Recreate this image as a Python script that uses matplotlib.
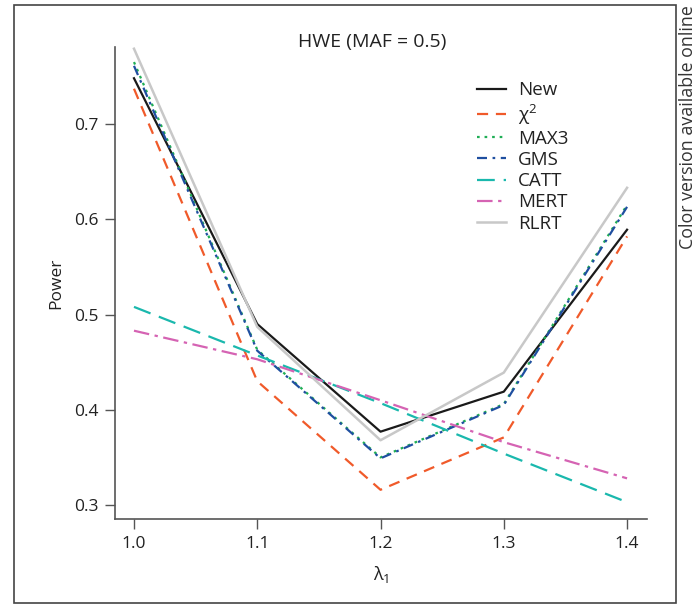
import matplotlib
matplotlib.use("Agg")
import matplotlib.pyplot as plt
from matplotlib.patches import Rectangle

plt.rcParams['font.family'] = ['Open Sans', 'DejaVu Sans']
plt.rcParams['mathtext.fontset'] = 'custom'
plt.rcParams['mathtext.rm'] = 'Open Sans'
plt.rcParams['mathtext.it'] = 'Open Sans'

lam = [1.0, 1.1, 1.2, 1.3, 1.4]
new = [0.748, 0.490, 0.377, 0.419, 0.589]
chi2 = [0.737, 0.430, 0.316, 0.371, 0.582]
max3 = [0.765, 0.463, 0.350, 0.406, 0.615]
gms = [0.761, 0.462, 0.349, 0.405, 0.613]
catt = [0.508, 0.457, 0.407, 0.354, 0.303]
mert = [0.483, 0.453, 0.410, 0.366, 0.328]
rlrt = [0.779, 0.487, 0.368, 0.439, 0.633]

labels = ['New', r'$\mathregular{χ^2}$', 'MAX3', 'GMS', 'CATT', 'MERT', 'RLRT']
xticks = [1.0, 1.1, 1.2, 1.3, 1.4]
yticks = [0.3, 0.4, 0.5, 0.6, 0.7]

fig = plt.figure(figsize=(6.97, 6.05), dpi=100)
ax = fig.add_axes([0.165, 0.1421, 0.7633, 0.7802])

lw = 1.6
ax.plot(lam, new, color='#1a1a1a', lw=lw, label=labels[0])
ax.plot(lam, chi2, color='#f05a2a', lw=lw, dashes=(5, 3.5), label=labels[1])
ax.plot(lam, max3, color='#1fae55', lw=lw, dashes=(1.2, 2.2), label=labels[2])
ax.plot(lam, gms, color='#1f4fa0', lw=lw, dashes=(4.5, 2.5, 1.2, 2.5), label=labels[3])
ax.plot(lam, catt, color='#1ab8ad', lw=lw, dashes=(8, 4), label=labels[4])
ax.plot(lam, mert, color='#d563b3', lw=lw, dashes=(7, 2.5, 1.5, 2.5), label=labels[5])
ax.plot(lam, rlrt, color='#c8c8c8', lw=lw + 0.2, label=labels[6])

ax.set_xlim(0.9846, 1.4162)
ax.set_ylim(0.2853, 0.7808)
ax.set_xticks(xticks)
ax.set_xticklabels([f'{v:.1f}' for v in xticks])
ax.set_yticks(yticks)
ax.set_yticklabels([f'{v:.1f}' for v in yticks])

for s in ['top', 'right']:
    ax.spines[s].set_visible(False)
for s in ['left', 'bottom']:
    ax.spines[s].set_color('#555555')
    ax.spines[s].set_linewidth(1.2)
ax.tick_params(axis='both', length=7, width=1.0, color='#555555',
               labelsize=12.5, labelcolor='#222222', pad=5)

ax.set_xlabel(r'$\mathregular{λ_1}$', fontsize=13, color='#222222', labelpad=9)
ax.set_ylabel('Power', fontsize=12.5, color='#222222', labelpad=7)

fig.text(372 / 697, 1 - 42 / 605, 'HWE (MAF = 0.5)', ha='center', va='center',
         fontsize=14, color='#222222')

leg = ax.legend(loc='upper left', bbox_to_anchor=(468 / 697, 1 - 72 / 605),
                bbox_transform=fig.transFigure, frameon=False, fontsize=13.5,
                handlelength=1.55, handletextpad=0.6, labelspacing=0.17,
                borderpad=0.0)
for t in leg.get_texts():
    t.set_color('#222222')

fig.patches.append(Rectangle((14 / 697, 1 - 603 / 605), (676 - 14) / 697, (603 - 5) / 605,
                             transform=fig.transFigure, fill=False,
                             edgecolor='#444444', linewidth=1.2))

fig.text(688 / 697, 1 - 5 / 605, 'Color version available online', rotation=90,
         ha='center', va='top', fontsize=12.8, color='#333333')

fig.savefig('out.png', dpi=100)
